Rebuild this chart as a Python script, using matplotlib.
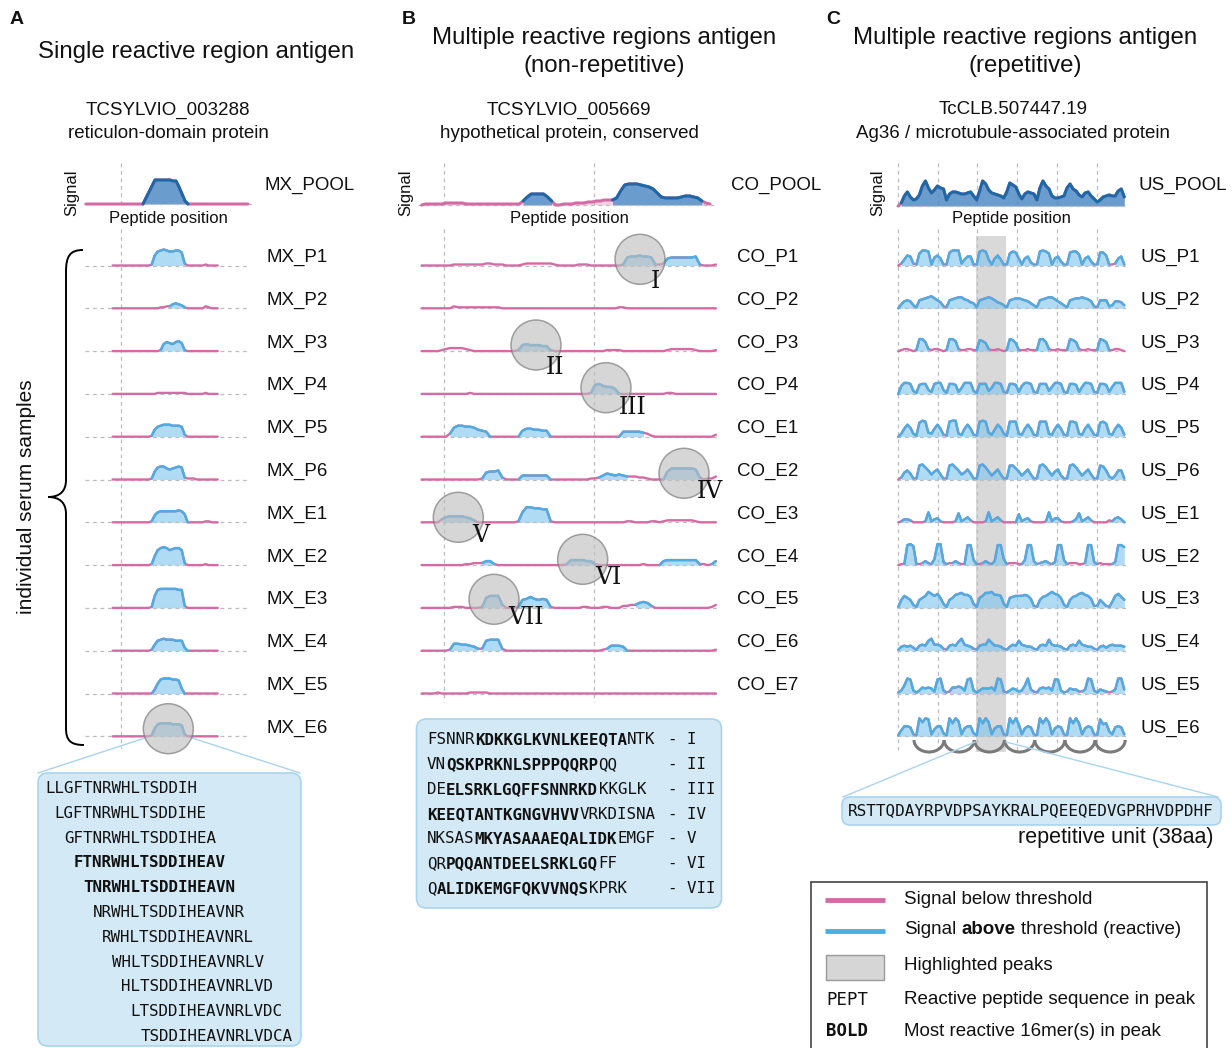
import numpy as np
import matplotlib
matplotlib.use("Agg")
import matplotlib.pyplot as plt
from matplotlib.patches import Circle, Rectangle, FancyBboxPatch, Arc, PathPatch
from matplotlib.path import Path

W, H = 1232, 1048
SANS = "Liberation Sans"
MONO = "DejaVu Sans Mono"
SERIF = "DejaVu Serif"

PINK = "#d56ba5"
BLUE = "#4aaee3"
BLUE_FILL = "#7cc4ee"
POOL_LINE = "#1b69a8"
POOL_FILL = "#3d8cc8"
GRID = "#bdbdbd"
BOX_FC = "#d3e9f6"
BOX_EC = "#a9d4ee"

# signal traces: one character per peptide, base-36 digit = signal level
# ---- A: TCSYLVIO_003288
mx_labels = ["MX_P1", "MX_P2", "MX_P3", "MX_P4", "MX_P5", "MX_P6",
             "MX_E1", "MX_E2", "MX_E3", "MX_E4", "MX_E5", "MX_E6"]
mx_pool = "00000000000000000000" "6ci" "oooooonn" "ha3" "000000000000000000000"
mx_traces = [
    "0000000000000" "1aefgfeeffd2" "00000010000",
    "0000000000000000" "112245431" "000000" "21000",
    "0000000000000000" "179879a81" "00000000000",
    "00000000000000" "0111111111" "100000010000",
    "0000000000000" "17abcccbbba2" "00000000000",
    "0000000000000" "18cddbabcdc2" "11100000000",
    "0000000000000" "17abbbbbbcb8" "00000011000",
    "0000000000000" "19fhihfghhf2" "00000010000",
    "0000000000000" "1cijjjjjjii2" "00000000000",
    "0000000000000" "16abcbbbaaa3" "00000000000",
    "0000000000000" "04aefffeed50" "00000000000",
    "0000000000000" "18cddddcccb2" "00000000000",
]
mx_thr = [2.5] * 12

# ---- B: TCSYLVIO_005669
co_labels = ["CO_P1", "CO_P2", "CO_P3", "CO_P4", "CO_E1", "CO_E2",
             "CO_E3", "CO_E4", "CO_E5", "CO_E6", "CO_E7"]
co_pool = "0111112222" "2111111111" "1111148bbb" "b840011122" "233445557e" "klllkjigc8" "7777899874" "21"
co_traces = [
    "0000000011" "1111112211" "1000012222" "2221000001" "1100000000" "1899a99811" "2788888891" "0001",
    "0000000021" "1111111111" "0000000000" "0000000000" "0000000001" "1000000000" "0000000000" "0000",
    "0000012333" "3210000000" "0000167666" "5510000000" "0000001111" "0000000000" "0122222210" "0001",
    "0000000000" "0010000000" "0000000000" "0000000000" "0019a87750" "0000000000" "0110000000" "0000",
    "000000039b" "baa9765000" "0000068877" "6600000000" "0000000000" "5555543100" "0000000000" "0002",
    "0000000000" "0000017889" "2000044444" "4400000000" "0011246545" "4333221000" "08bbbbbba2" "0113",
    "0000035666" "6542000000" "00001affee" "dd10000000" "0000000000" "0110000110" "1222222210" "0000",
    "0000000000" "0112224410" "0000000000" "0000001555" "5441000000" "0000010000" "4555555551" "1014",
    "0000000011" "100001accc" "3000189b98" "9810000000" "1100011000" "2233565200" "0000000000" "0013",
    "0000000177" "665422abbb" "2000000000" "0000000000" "0000012555" "4000000000" "0000000000" "0001",
    "0000100000" "0011111000" "0000000000" "0000000000" "0000000000" "0000000000" "0000000000" "0000",
]
co_thr = [2.5, 2.5, 4.5, 2.5, 4.5, 3.5, 3.5, 3, 3.5, 3.5, 2.5]

# ---- C: TcCLB.507447.19
us_labels = ["US_P1", "US_P2", "US_P3", "US_P4", "US_P5", "US_P6",
             "US_E1", "US_E2", "US_E3", "US_E4", "US_E5", "US_E6"]
us_pool = "03ae967bkp" "idgkih6cee" "dccdea6fpm" "gdcba8enlj" "c7cedc6ipk" "ha889aimhf" "b9dea7469a" "baafh9"
us_traces = [
    "026a921cff" "e18a711dff" "f269911efe" "617a611ced" "7179311efe" "c179411dee" "b179411dda" "112791",
    "047873189a" "bca862189a" "bb9865189a" "ba8653189a" "a98753189a" "bb9753189a" "aba9721888" "237763",
    "0122101cc9" "2122101cca" "2112211ba8" "2112101cb8" "1112111cc9" "2112111cb9" "2112111cb9" "112210",
    "08bba319aa" "42abb41aa9" "26bbb31aaa" "36bba21aa9" "28bba21aaa" "37bba21aa9" "27bba21aa9" "27bbb2",
    "038c931egf" "438c821fgg" "328c821fgf" "427c931fff" "328c821fff" "328c821ffe" "328c721efd" "328c92",
    "0279611efc" "958a511efc" "957a611efc" "847a511eeb" "847a511efc" "848a411efc" "847a511ed9" "314991",
    "0133200001" "a134100001" "9135200001" "a135200000" "8134100001" "a144100013" "9135200000" "214530",
    "011klj1124" "216ll31224" "211kk51124" "214kk61222" "115kk41234" "213kk51222" "112kk31211" "113kki",
    "18ca8318ac" "gecea418ad" "efddb41acf" "fgddc41abc" "ccdc9218bc" "egeda318bc" "efdc922852" "16ceb8",
    "1454531565" "ac66521565" "9c65421566" "b855421465" "a654421565" "b655421565" "a654421453" "565554",
    "138fe31365" "652ef31266" "763ef31355" "563fe21354" "238f421565" "63ee312544" "224fe31432" "124ff4",
    "16aa921iei" "h27aa31idi" "f28aa31idi" "e28aa21idi" "c28a921idi" "e28a921idi" "d28a921hcd" "529a92",
]
us_thr = [2.5] * 12

# peptide sequences
mx_peptides = ["LLGFTNRWHLTSDDIH", "LGFTNRWHLTSDDIHE", "GFTNRWHLTSDDIHEA",
               "FTNRWHLTSDDIHEAV", "TNRWHLTSDDIHEAVN", "NRWHLTSDDIHEAVNR",
               "RWHLTSDDIHEAVNRL", "WHLTSDDIHEAVNRLV", "HLTSDDIHEAVNRLVD",
               "LTSDDIHEAVNRLVDC", "TSDDIHEAVNRLVDCA"]
mx_bold = [3, 4]
co_peaks = [("FSNNR", "KDKKGLKVNLKEEQTA", "NTK"),
            ("VN", "QSKPRKNLSPPPQQRP", "QQ"),
            ("DE", "ELSRKLGQFFSNNRKD", "KKGLK"),
            ("", "KEEQTANTKGNGVHVV", "VRKDISNA"),
            ("NKSAS", "MKYASAAAEQALIDK", "EMGF"),
            ("QR", "PQQANTDEELSRKLGQ", "FF"),
            ("Q", "ALIDKEMGFQKVVNQS", "KPRK")]
co_numerals = ["I", "II", "III", "IV", "V", "VI", "VII"]
us_unit = "RSTTQDAYRPVDPSAYKRALPQEEQEDVGPRHVDPDHF"

ROW0 = 265.5
GAP = 42.8


def decode(s):
    return np.array([int(c, 36) for c in s], dtype=float)


fig = plt.figure(figsize=(W / 100, H / 100), dpi=100)


def overlay():
    ax = fig.add_axes([0, 0, 1, 1])
    ax.set_xlim(0, W)
    ax.set_ylim(H, 0)
    ax.axis("off")
    return ax


def trace_axes(x0, x1, y0, y1, start, step, base):
    ax = fig.add_axes([x0 / W, 1 - y1 / H, (x1 - x0) / W, (y1 - y0) / H])
    ax.set_xlim((x0 - start) / step, (x1 - start) / step)
    ax.set_ylim(base - y1, base - y0)
    ax.axis("off")
    return ax


def draw_trace(ax, s, thr, off, line_c, fill_c, lw, pool=False):
    y = decode(s)
    x = np.arange(len(y))
    ax.axhline(off, color=GRID, lw=0.9, ls=(0, (3, 3)), zorder=2.5)
    if pool:
        ax.fill_between(x, off, off + y, color=PINK, alpha=0.3, lw=0, zorder=1)
    ax.plot(x, off + y, color=PINK, lw=lw, zorder=3, solid_capstyle="round")
    hot = y > thr
    seg = hot[:-1] | hot[1:]
    i = 0
    while i < len(seg):
        if not seg[i]:
            i += 1
            continue
        j = i
        while j < len(seg) and seg[j]:
            j += 1
        xs, ys = x[i:j + 1], off + y[i:j + 1]
        ax.fill_between(xs, off, ys, color=fill_c, alpha=0.6 if not pool else 0.75, lw=0, zorder=2)
        ax.plot(xs, ys, color=line_c, lw=lw, zorder=4,
                solid_capstyle="round", solid_joinstyle="round")
        i = j


bg = overlay()

panels = [
    dict(labels=mx_labels, pool=mx_pool, traces=mx_traces, thr=mx_thr, pool_thr=2.5,
         pool_x=(84, 252), pool_start=86, pool_step=3.0, pool_base=204,
         ax_x=(85, 250), start=112.7, step=3.0, label_x=266, pool_label_x=264,
         name="MX_POOL", vlines=[120.7], vbottom=748, sig_x=72, pep_x=168),
    dict(labels=co_labels, pool=co_pool, traces=co_traces, thr=co_thr, pool_thr=6.5,
         pool_x=(418, 714), pool_start=421.7, pool_step=4.06, pool_base=205,
         ax_x=(420, 718), start=421.7, step=4.03, label_x=737, pool_label_x=731,
         name="CO_POOL", vlines=[444.3, 594.3], vbottom=702, sig_x=406, pep_x=569),
    dict(labels=us_labels, pool=us_pool, traces=us_traces, thr=us_thr, pool_thr=3.5,
         pool_x=(896, 1127), pool_start=898.3, pool_step=3.013, pool_base=206,
         ax_x=(897, 1126), start=898.3, step=3.013, label_x=1140, pool_label_x=1139,
         name="US_POOL", vlines=[898.3, 938.3, 977.3, 1016.7, 1056.7, 1096.7],
         vbottom=750, sig_x=878, pep_x=1011),
]

# highlighted repeat unit (panel C)
bg.add_patch(Rectangle((976, 236), 30, 516, fc="#d9d9d9", ec="none"))

for p in panels:
    bg.vlines(p["vlines"], 163, 207, color=GRID, lw=0.9, linestyles=(0, (3, 3)))
    bg.vlines(p["vlines"], 229, p["vbottom"], color=GRID, lw=0.9, linestyles=(0, (3, 3)))

for p in panels:
    pa = trace_axes(p["pool_x"][0], p["pool_x"][1], 160, 212,
                    p["pool_start"], p["pool_step"], p["pool_base"])
    draw_trace(pa, p["pool"], p["pool_thr"], 0, POOL_LINE, POOL_FILL, 2.2, pool=True)
    sa = trace_axes(p["ax_x"][0], p["ax_x"][1], 230, 760, p["start"], p["step"], ROW0)
    for r, (s, t) in enumerate(zip(p["traces"], p["thr"])):
        draw_trace(sa, s, t, -r * GAP, BLUE, BLUE_FILL, 1.7)

fg = overlay()
txt = dict(family=SANS, color="#111111")

for p in panels:
    fg.text(p["pool_label_x"], 185, p["name"], fontsize=13.5, va="center", **txt)
    for r, lab in enumerate(p["labels"]):
        fg.text(p["label_x"], ROW0 + r * GAP - 8, lab, fontsize=13.5, va="center", **txt)
    fg.text(p["sig_x"], 193, "Signal", fontsize=12, rotation=90, ha="center", va="center", **txt)
    fg.text(p["pep_x"], 219, "Peptide position", fontsize=12, ha="center", va="center", **txt)

# panel letters and titles
for x, s in [(10, "A"), (402, "B"), (826, "C")]:
    fg.text(x, 20, s, fontsize=14, fontweight="bold", va="center", **txt)
fg.text(196, 52, "Single reactive region antigen", fontsize=17.3, ha="center", va="center", **txt)
fg.text(604, 38, "Multiple reactive regions antigen", fontsize=17.3, ha="center", va="center", **txt)
fg.text(604, 66, "(non-repetitive)", fontsize=17.3, ha="center", va="center", **txt)
fg.text(1025, 38, "Multiple reactive regions antigen", fontsize=17.3, ha="center", va="center", **txt)
fg.text(1025, 66, "(repetitive)", fontsize=17.3, ha="center", va="center", **txt)
for x, a, b in [(168, "TCSYLVIO_003288", "reticulon-domain protein"),
                (569, "TCSYLVIO_005669", "hypothetical protein, conserved"),
                (1013, "TcCLB.507447.19", "Ag36 / microtubule-associated protein")]:
    fg.text(x, 110, a, fontsize=13.5, ha="center", va="center", **txt)
    fg.text(x, 133, b, fontsize=13.5, ha="center", va="center", **txt)

# brace for individual samples
bv = [(83, 250), (70, 250), (66, 256), (66, 272), (66, 480), (66, 491), (60, 497), (48, 497),
      (60, 497), (66, 503), (66, 514), (66, 728), (66, 740), (70, 745), (84, 745)]
bc = [Path.MOVETO] + [Path.CURVE4] * 3 + [Path.LINETO] + [Path.CURVE4] * 6 + [Path.LINETO] + [Path.CURVE4] * 3
fg.add_patch(PathPatch(Path(bv, bc), fc="none", ec="black", lw=1.4))
fg.text(27, 497, "individual serum samples", fontsize=15, rotation=90, ha="center", va="center", **txt)

# highlight circles
circ = dict(radius=25, fc="#bdbdbd", ec="#6f6f6f", alpha=0.62, lw=1.1, zorder=5)
fg.add_patch(Circle((168.3, 728.7), **circ))
co_circles = [(640, 259.3), (536, 345), (606, 387.7), (684, 473.3), (458.3, 517.3), (582.7, 559.3), (494, 599.3)]
co_num_pos = [(655, 282), (555, 367), (633, 407), (710, 492), (481, 536), (608, 578), (526, 618)]
for c, (nx, ny), n in zip(co_circles, co_num_pos, co_numerals):
    fg.add_patch(Circle(c, **circ))
    fg.text(nx, ny, n, family=SERIF, fontsize=17, ha="center", va="center", color="#111111", zorder=6)

# repeat-unit arcs (panel C)
for k in range(7):
    fg.add_patch(Arc((929 + 30.2 * k, 740), 30, 24, theta1=0, theta2=180, color="#7a7a7a", lw=2.2))

# sequence boxes
fg.plot([145, 38], [738, 773], color=BOX_EC, lw=1)
fg.plot([192, 300], [738, 773], color=BOX_EC, lw=1)
fg.add_patch(FancyBboxPatch((38, 773), 263, 273, boxstyle="round,pad=0,rounding_size=10",
                            fc=BOX_FC, ec=BOX_EC, lw=1.2))
fg.add_patch(FancyBboxPatch((416.5, 719), 305, 189, boxstyle="round,pad=0,rounding_size=10",
                            fc=BOX_FC, ec=BOX_EC, lw=1.2))
fg.plot([975, 843], [742, 797], color=BOX_EC, lw=1)
fg.plot([1006, 1218], [742, 797], color=BOX_EC, lw=1)
fg.add_patch(FancyBboxPatch((842, 797), 379, 28, boxstyle="round,pad=0,rounding_size=8",
                            fc=BOX_FC, ec=BOX_EC, lw=1.2))

MS = 11.4
CW = 0.60205 * MS * 100 / 72


def mono_runs(x, y, runs, size=MS):
    cw = 0.60205 * size * 100 / 72
    for s, bold in runs:
        fg.text(x, y, s, family=MONO, fontsize=size, fontweight="bold" if bold else "normal",
                ha="left", va="center", color="#111111")
        x += len(s) * cw


for k, pep in enumerate(mx_peptides):
    mono_runs(45 + k * CW, 788.5 + 24.8 * k, [(pep, k in mx_bold)])
for k, ((a, b, c), n) in enumerate(zip(co_peaks, co_numerals)):
    y = 740 + 24.7 * k
    mono_runs(427, y, [(a, False), (b, True), (c, False)])
    mono_runs(668, y, [("- " + n, False)])
fg.text(1031, 811, us_unit, family=MONO, fontsize=11.5, ha="center", va="center", color="#111111")
fg.text(1214, 838, "repetitive unit (38aa)", fontsize=15.5, ha="right", va="center", **txt)

# legend
fg.add_patch(Rectangle((811, 882), 396, 180, fc="white", ec="#444444", lw=1.2))
fg.plot([825, 885], [900, 900], color=PINK, lw=3.5, solid_capstyle="butt")
fg.plot([825, 885], [931, 931], color=BLUE, lw=3.5, solid_capstyle="butt")
fg.add_patch(Rectangle((826, 955), 58, 25, fc="#d6d6d6", ec="#9a9a9a", lw=1))
mono_runs(826, 1000, [("PEPT", False)], size=12.5)
mono_runs(826, 1031, [("BOLD", True)], size=12.5)
LS = 13.5
fg.text(904, 899, "Signal below threshold", fontsize=LS, va="center", **txt)
ren = fig.canvas.get_renderer()
sp = 0.278 * LS * 100 / 72
x = 904
for s, w in [("Signal", "normal"), ("above", "bold"), ("threshold (reactive)", "normal")]:
    t = fg.text(x, 930, s, fontsize=LS, fontweight=w, va="center", **txt)
    x += t.get_window_extent(renderer=ren).width + sp
fg.text(904, 966, "Highlighted peaks", fontsize=LS, va="center", **txt)
fg.text(904, 1000, "Reactive peptide sequence in peak", fontsize=LS, va="center", **txt)
fg.text(904, 1031, "Most reactive 16mer(s) in peak", fontsize=LS, va="center", **txt)

fig.savefig("out.png", dpi=100)
